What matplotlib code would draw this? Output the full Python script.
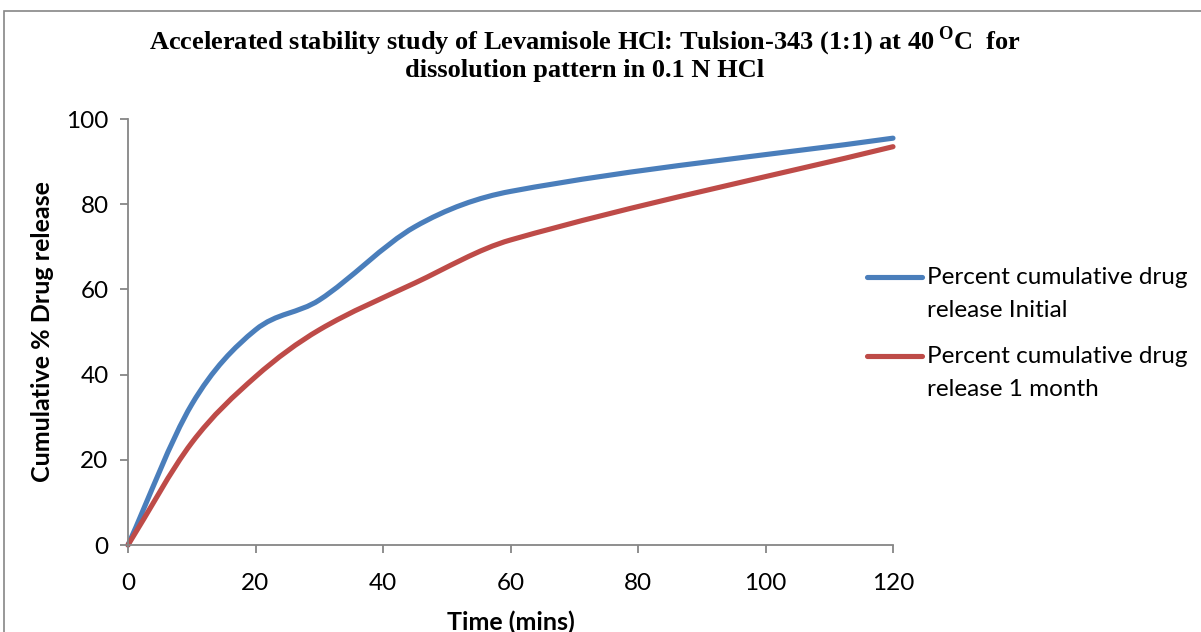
import matplotlib
matplotlib.use("Agg")
import matplotlib.pyplot as plt
from matplotlib.path import Path
from matplotlib.patches import PathPatch, Rectangle
from matplotlib.lines import Line2D
import numpy as np

time_min = [0, 10, 20, 30, 45, 60, 120]
release_initial = [0, 33.0, 50.5, 57.5, 74.7, 83.0, 95.5]
release_1month = [0, 24.0, 39.5, 50.5, 61.5, 71.6, 93.5]
x_ticks = [0, 20, 40, 60, 80, 100, 120]
y_ticks = [0, 20, 40, 60, 80, 100]
series_labels = ["Percent cumulative drug\nrelease Initial",
                 "Percent cumulative drug\nrelease 1 month"]
colors = ["#4A7EBB", "#BE4B48"]

title = ("Accelerated stability study of Levamisole HCl: Tulsion-343 (1:1) at 40$\\,^{\\mathregular{O}}$C  for\n"
         "dissolution pattern in 0.1 N HCl")


def smooth_path(xs, ys):
    """Smooth line through the data points (cubic Hermite as Bezier segments)."""
    x = np.asarray(xs, float)
    y = np.asarray(ys, float)
    n = len(x)
    m = np.zeros(n)
    m[0] = (y[1] - y[0]) / (x[1] - x[0])
    m[-1] = (y[-1] - y[-2]) / (x[-1] - x[-2])
    for i in range(1, n - 1):
        m[i] = (y[i + 1] - y[i - 1]) / (x[i + 1] - x[i - 1])
    verts = [(x[0], y[0])]
    codes = [Path.MOVETO]
    for i in range(n - 1):
        h = x[i + 1] - x[i]
        verts += [(x[i] + h / 3, y[i] + m[i] * h / 3),
                  (x[i + 1] - h / 3, y[i + 1] - m[i + 1] * h / 3),
                  (x[i + 1], y[i + 1])]
        codes += [Path.CURVE4] * 3
    return Path(verts, codes)


W, H = 1201, 632
fig = plt.figure(figsize=(W / 100, H / 100), dpi=100)
fig.patches.append(Rectangle((4 / W, -0.1), 1.2, 1 - 11 / H + 0.1,
                             transform=fig.transFigure, fill=False,
                             edgecolor="#868686", linewidth=1.2))

ax = fig.add_axes([128 / W, 1 - 545 / H, (893 - 128) / W, (545 - 119) / H])
ax.set_xlim(0, 120)
ax.set_ylim(0, 100)

for ys, c in zip([release_initial, release_1month], colors):
    ax.add_patch(PathPatch(smooth_path(time_min, ys), facecolor="none",
                           edgecolor=c, linewidth=3.7, capstyle="round",
                           joinstyle="round", clip_on=False))

ax.set_xticks(x_ticks)
ax.set_yticks(y_ticks)
for s in ["top", "right"]:
    ax.spines[s].set_visible(False)
for s in ["left", "bottom"]:
    ax.spines[s].set_color("#868686")
    ax.spines[s].set_linewidth(1.3)
ax.tick_params(axis="both", direction="out", length=6, width=1.3,
               color="#868686", labelsize=17.5)
for lab in ax.get_xticklabels() + ax.get_yticklabels():
    lab.set_fontfamily("Lato")
ax.tick_params(axis="x", pad=14)
ax.tick_params(axis="y", pad=8)

ax.set_xlabel("Time (mins)", fontsize=18, fontweight="bold", family="Lato",
              labelpad=12)
ax.set_ylabel("Cumulative % Drug release", fontsize=18, fontweight="bold",
              family="Lato", labelpad=9)

fig.text(585 / W, 1 - 53 / H, title, ha="center", va="center",
         fontsize=19, fontweight="bold", family="Liberation Serif",
         linespacing=1.05)

# legend: handle aligned with the first text line of each entry (Excel style)
legend_y_px = [277, 356]
for lab, c, ypx in zip(series_labels, colors, legend_y_px):
    yf = 1 - ypx / H
    fig.add_artist(Line2D([867 / W, 922 / W], [yf, yf], transform=fig.transFigure,
                          color=c, linewidth=3.7, solid_capstyle="round"))
    fig.text(927 / W, 1 - (ypx - 10) / H, lab, ha="left", va="top",
             fontsize=17.5, family="Lato", linespacing=1.7)

fig.savefig("out.png", dpi=100)
